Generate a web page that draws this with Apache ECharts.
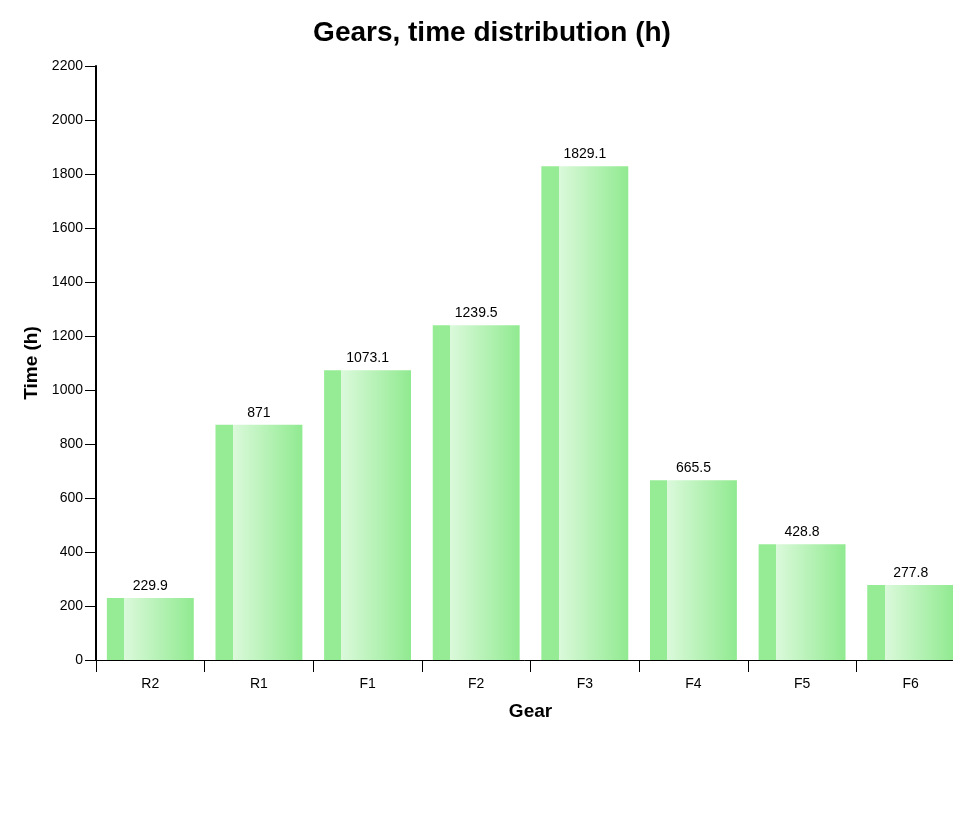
<!DOCTYPE html>
<html>
<head>
<meta charset="utf-8">
<script src="https://cdn.jsdelivr.net/npm/echarts@6/dist/echarts.min.js"></script>
<style>
  html, body { margin: 0; padding: 0; background: #fff; }
  #chart { width: 953px; height: 835px; }
</style>
</head>
<body>
<div id="chart"></div>
<script>
// Gear categories and time spent in each gear (hours)
const gears = ['R2', 'R1', 'F1', 'F2', 'F3', 'F4', 'F5', 'F6'];
const hours = [229.9, 871, 1073.1, 1239.5, 1829.1, 665.5, 428.8, 277.8];
const yTicks = [0, 200, 400, 600, 800, 1000, 1200, 1400, 1600, 1800, 2000, 2200];

const FONT = 'Liberation Sans, Arial, sans-serif';
const chart = echarts.init(document.getElementById('chart'), null, { renderer: 'canvas' });

// Bars: flat shade on the left fifth, then a light-to-green sweep
const barFill = new echarts.graphic.LinearGradient(0, 0, 1, 0, [
  { offset: 0, color: '#95ec95' },
  { offset: 0.2, color: '#95ec95' },
  { offset: 0.2, color: '#dbf9db' },
  { offset: 1, color: '#90ea90' }
]);

chart.setOption({
  animation: false,
  backgroundColor: '#ffffff',
  title: {
    text: 'Gears, time distribution (h)',
    left: 487,
    textAlign: 'center',
    top: 14,
    textStyle: { fontFamily: FONT, fontSize: 28, fontWeight: 'bold', color: '#000' }
  },
  // the plot runs a little past the right edge of the canvas
  grid: {
    left: 96, top: 66, bottom: 175, right: -12,
    containLabel: false,
    outerBoundsMode: 'none'
  },
  xAxis: {
    type: 'category',
    data: gears,
    name: 'Gear',
    nameLocation: 'middle',
    nameGap: 42,
    nameTextStyle: { fontFamily: FONT, fontSize: 19, fontWeight: 'bold', color: '#000' },
    axisLine: { lineStyle: { color: '#000', width: 1 } },
    axisTick: { show: true, length: 12, lineStyle: { color: '#000' } },
    axisLabel: { margin: 17, fontFamily: FONT, fontSize: 14, color: '#000' },
    splitLine: { show: false }
  },
  yAxis: {
    type: 'value',
    min: yTicks[0],
    max: yTicks[yTicks.length - 1],
    interval: yTicks[1] - yTicks[0],
    name: 'Time (h)',
    nameLocation: 'middle',
    nameGap: 55,
    nameRotate: 90,
    nameTextStyle: { fontFamily: FONT, fontSize: 19, fontWeight: 'bold', color: '#000' },
    axisLine: { show: true, lineStyle: { color: '#000', width: 2 } },
    axisTick: { show: true, length: 11, lineStyle: { color: '#000' } },
    axisLabel: {
      margin: 13,
      fontFamily: FONT,
      fontSize: 14,
      color: '#000',
      formatter: (v) => String(v)
    },
    splitLine: { show: false }
  },
  series: [{
    type: 'bar',
    data: hours,
    barCategoryGap: '20%',
    itemStyle: { color: barFill },
    label: {
      show: true,
      position: 'top',
      distance: 5,
      fontFamily: FONT,
      fontSize: 14,
      color: '#000'
    }
  }]
});
</script>
</body>
</html>
